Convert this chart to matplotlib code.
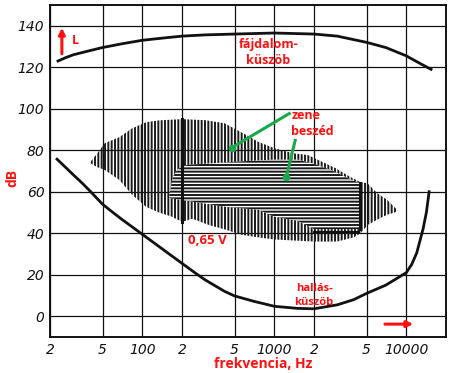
import matplotlib
matplotlib.use("Agg")
import matplotlib.pyplot as plt
from matplotlib.patches import Polygon

# ---- data ----
pain_f = [23, 26, 30, 40, 50, 70, 100, 150, 200, 300, 500, 1000, 2000, 3000,
          5000, 7000, 10000, 13000, 15400]
pain_db = [123, 124.5, 126, 128, 129.5, 131.3, 133, 134.2, 135, 135.6, 136, 136.5,
           136, 135, 132, 129.5, 125.5, 121.5, 119]

hear_f = [22.6, 26, 30, 35, 40, 50, 60, 70, 85, 100, 125, 150, 200, 250, 300, 420,
          500, 700, 1000, 1500, 2000, 3000, 4000, 5000, 7000, 10000, 11000, 12000,
          13400, 14200, 14900]
hear_db = [75.7, 72, 68.2, 64.2, 60.5, 54, 50, 46.7, 42.8, 39.5, 35, 31.3, 25.5,
           21, 17.5, 12, 9.8, 7.2, 4.8, 3.8, 3.6, 5.5, 8, 11, 15, 21, 25, 30.5,
           42, 50, 60]

music_f = [40, 45, 52, 67, 84, 107, 134, 200, 300, 420, 550, 760, 1000, 1400, 1800,
           2900, 3800, 4500, 5100, 6000, 7200, 8600,
           8200, 7200, 6000, 5100, 4500, 4000, 3000, 2000, 1000, 760, 560, 430,
           318, 240, 200, 167, 134, 107, 84, 67, 52, 45]
music_db = [74, 78, 83.4, 86.3, 90.6, 93.5, 94.4, 95, 94.5, 93, 89, 84, 81, 78.5, 77.7,
            71.4, 67, 64.7, 64, 59.4, 56, 51,
            50, 49, 46.5, 44, 40, 38, 36, 36, 37, 38, 39.3, 41.7,
            44, 47, 45.5, 48, 50, 52.7, 58.5, 65.7, 70.5, 72]

speech_f = [160, 170, 185, 220, 400, 700, 1000, 1500, 2000, 2800, 3800, 4500,
            4500, 3000, 2000, 1500, 1000, 760, 430, 200, 160]
speech_db = [58, 67, 71, 73, 74, 75, 75.5, 75.5, 73.5, 70, 66, 64,
             42, 42, 42, 46, 48, 51.3, 52.7, 56, 57]

xticks = [20, 50, 100, 200, 500, 1000, 2000, 5000, 10000]
xlabels = ['2', '5', '100', '2', '5', '1000', '2', '5', '10000']
yticks = [0, 20, 40, 60, 80, 100, 120, 140]

RED = '#ff1010'
GREEN = '#1aa84a'
INK = '#111111'

plt.rcParams['hatch.linewidth'] = 1.4
fig = plt.figure(figsize=(4.53, 3.73), dpi=100)
ax = fig.add_axes([50/453, 36/373, 396/453, 332/373])
ax.set_xscale('log')
ax.set_xlim(20, 20000)
ax.set_ylim(-10, 150)

ax.set_xticks(xticks)
ax.set_xticklabels(xlabels)
ax.minorticks_off()
ax.set_yticks(yticks)
ax.tick_params(length=0, pad=4, labelsize=10, labelcolor=INK)
for lab in ax.get_xticklabels() + ax.get_yticklabels():
    lab.set_fontstyle('italic')
ax.grid(True, color=INK, lw=0.9)
ax.set_axisbelow(True)
for s in ax.spines.values():
    s.set_linewidth(1.4)
    s.set_color(INK)

# hatched regions
music = Polygon(list(zip(music_f, music_db)), closed=True, facecolor='none',
                edgecolor='#1a1a1a', lw=0, hatch='|||||', zorder=2)
ax.add_patch(music)
speech = Polygon(list(zip(speech_f, speech_db)), closed=True, facecolor='white',
                 edgecolor='#1a1a1a', lw=0, hatch='-----', zorder=3)
ax.add_patch(speech)

# thick marker lines
ax.plot([200, 200], [95, 45.5], color=INK, lw=2.2, zorder=4)
ax.plot([4500, 4500], [64, 42], color=INK, lw=2.2, zorder=4)
ax.plot([2000, 4300], [40.5, 40.5], color=INK, lw=2.2, zorder=4)

# threshold curves
ax.plot(pain_f, pain_db, color=INK, lw=2.0, zorder=5, solid_joinstyle='round')
ax.plot(hear_f, hear_db, color=INK, lw=2.0, zorder=5, solid_joinstyle='round')

fb = dict(family=['Open Sans', 'DejaVu Sans'], fontweight='bold', color=RED)
ax.text(900, 127, 'fájdalom-\nküszöb', ha='center', va='center', fontsize=9,
        linespacing=1.3, zorder=6, **fb)
ax.text(1343, 93, 'zene\nbeszéd', ha='left', va='center', fontsize=9,
        linespacing=1.3, zorder=6, **fb)
ax.text(222, 36.6, '0,65 V', ha='left', va='center', fontsize=9.5, zorder=6, **fb)
ax.text(2006, 10, 'hallás-\nküszöb', ha='center', va='center', fontsize=8,
        linespacing=1.3, zorder=6, **fb)
ax.text(29.5, 133, 'L', ha='left', va='center', fontsize=9, zorder=6, **fb)
ax.annotate('', xy=(24.6, 139), xytext=(24.6, 126.5),
            arrowprops=dict(arrowstyle='-|>', color=RED, lw=2.2, mutation_scale=9,
                            shrinkA=0, shrinkB=0), zorder=6)
ax.annotate('', xy=(11300, -3.8), xytext=(6900, -3.8),
            arrowprops=dict(arrowstyle='-|>', color=RED, lw=2.2, mutation_scale=9,
                            shrinkA=0, shrinkB=0), zorder=6)

# green pointers
ax.plot([1300, 478], [97.7, 81.3], color=GREEN, lw=2.2, zorder=6)
ax.plot([478], [81.3], 'o', color=GREEN, ms=4.5, zorder=6)
ax.plot([1440, 1232], [84.7, 66.9], color=GREEN, lw=2.2, zorder=6)
ax.plot([1232], [66.9], 'o', color=GREEN, ms=4.5, zorder=6)

fig.text(12/453, 1 - 178/373, 'dB', rotation=90, ha='center', va='center',
         fontsize=10, **fb)
fig.text(263/453, 1 - 364/373, 'frekvencia, Hz', ha='center', va='center',
         fontsize=10, **fb)

fig.savefig('out.png', dpi=100)
